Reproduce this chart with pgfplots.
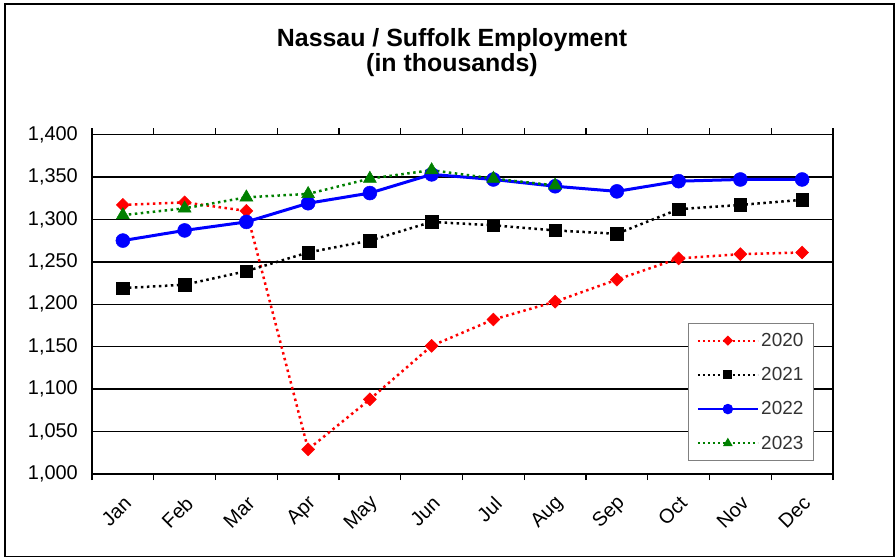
\documentclass[border=0pt]{standalone}
\usepackage{pgfplots}
\pgfplotsset{compat=1.18}
\usepackage{fontspec}
\setmainfont{Liberation Sans}
\definecolor{exgreen}{RGB}{0,128,0}
\definecolor{legtext}{RGB}{51,51,51}
\begin{document}
\begin{tikzpicture}
\useasboundingbox (0,0) rectangle (896bp,558bp);
\draw[line width=1.3bp, black] (5bp,1.5bp) rectangle (894bp,554bp);
\node[font=\bfseries\fontsize{25}{25}\selectfont, align=center] at (452bp,505.5bp) {Nassau / Suffolk Employment\\(in thousands)};
\begin{axis}[
  at={(92bp,84bp)}, anchor=south west,
  scale only axis, width=741bp, height=339.5bp,
  xmin=0.5, xmax=12.5, ymin=1000, ymax=1400,
  xtick={1,...,12},
  xticklabels={Jan,Feb,Mar,Apr,May,Jun,Jul,Aug,Sep,Oct,Nov,Dec},
  minor xtick={0.5,1.5,...,12.5},
  ytick={1000,1050,...,1400},
  major tick length=0pt, minor tick length=6bp,
  tick align=outside,
  minor tick style={black, line width=1.2bp},
  ymajorgrids, grid style={black, line width=1.4bp},
  axis line style={black, line width=1.8bp},
  /pgf/number format/assume math mode=true,
  /pgf/number format/1000 sep={,},
  tick label style={font=\fontsize{20}{24}\selectfont, text=black},
  yticklabel style={inner sep=0pt, xshift=-14bp},
  xticklabel style={inner sep=0pt, xshift=5bp, yshift=-26bp, rotate=45, anchor=east},
  legend cell align=left,
  legend style={at={(0.974,0.445)}, anchor=north east, draw=gray, line width=0.8bp,
    font=\fontsize{19}{22}\selectfont, text=legtext, row sep=15.5bp,
    inner xsep=8bp, inner ysep=8bp},
  legend image code/.code={\draw[mark repeat=2,mark phase=2,#1] plot coordinates {(0bp,0bp) (30bp,0bp) (60bp,0bp)};},
]
% 2020
\addplot[red, line width=2.5bp, dash pattern=on 2.5bp off 3.5bp, mark=square*, mark size=4.6pt, mark options={solid, rotate=45, fill=red, draw=red, line width=0.5bp}, forget plot]
 coordinates {(1,1317) (2,1320) (3,1310) (4,1029) (5,1088) (6,1151) (7,1182) (8,1203) (9,1229) (10,1254) (11,1259) (12,1261)};
% 2021
\addplot[black, line width=2.5bp, dash pattern=on 2.5bp off 3.5bp, mark=square*, mark size=6.3pt, mark options={solid, fill=black, line width=0.5bp}, forget plot]
 coordinates {(1,1219) (2,1223) (3,1239) (4,1261) (5,1275) (6,1297) (7,1293) (8,1287) (9,1283) (10,1312) (11,1317) (12,1323)};
% 2022
\addplot[blue, line width=3bp, mark=*, mark size=7pt, mark options={solid, fill=blue, line width=0.5bp}, forget plot]
 coordinates {(1,1275) (2,1287) (3,1297) (4,1319) (5,1331) (6,1353) (7,1347) (8,1339) (9,1333) (10,1345) (11,1347) (12,1347)};
% 2023
\addplot[exgreen, line width=2.5bp, dash pattern=on 2.5bp off 3.5bp, mark=triangle*, mark size=7.5pt, mark options={solid, fill=exgreen, line width=0.5bp}, forget plot]
 coordinates {(1,1305) (2,1313) (3,1326) (4,1330) (5,1348) (6,1358) (7,1348) (8,1340)};
\addlegendimage{red, line width=2bp, dash pattern=on 2bp off 3bp, mark=square*, mark size=2.6pt, mark options={solid, rotate=45, fill=red}}
\addlegendentry{2020}
\addlegendimage{black, line width=2bp, dash pattern=on 2bp off 3bp, mark=square*, mark size=3.5pt, mark options={solid, fill=black}}
\addlegendentry{2021}
\addlegendimage{blue, line width=2.8bp, mark=*, mark size=3.8pt, mark options={solid, fill=blue}}
\addlegendentry{2022}
\addlegendimage{exgreen, line width=2bp, dash pattern=on 2bp off 3bp, mark=triangle*, mark size=3.6pt, mark options={solid, fill=exgreen}}
\addlegendentry{2023}
\end{axis}
\end{tikzpicture}
\end{document}
